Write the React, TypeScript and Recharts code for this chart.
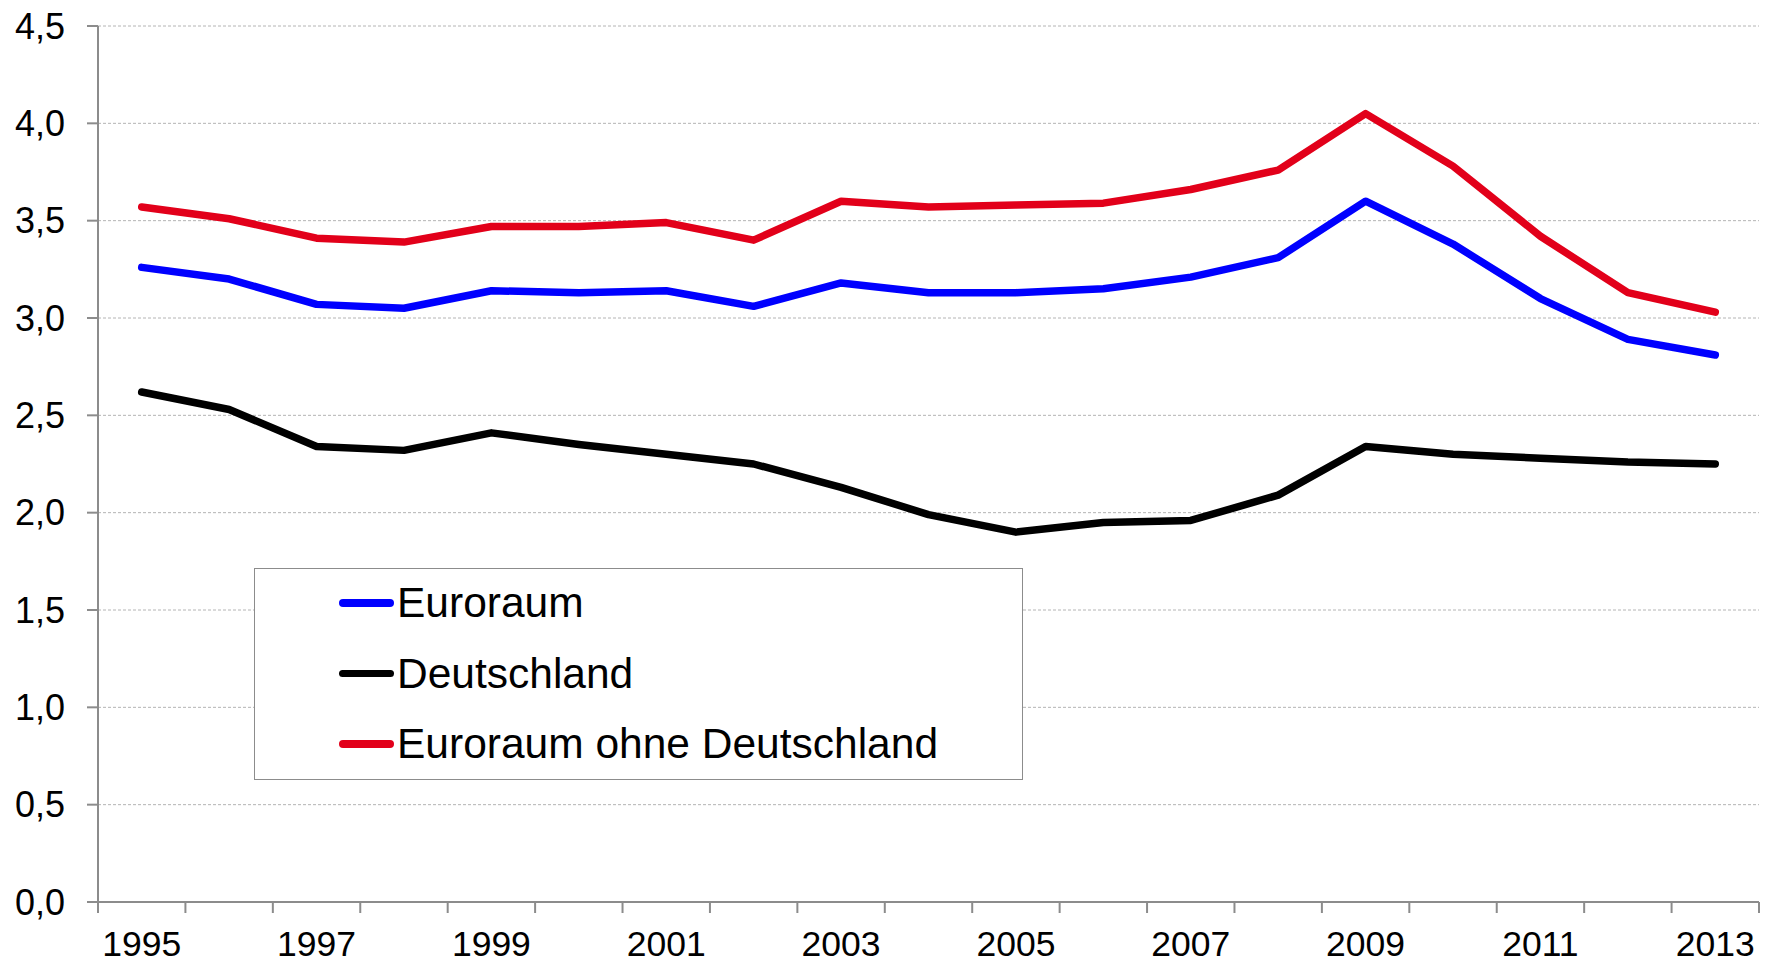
import React from 'react';
import { LineChart, Line, XAxis, YAxis, CartesianGrid } from 'recharts';

// Years on the category axis
const years = [
  '1995', '1996', '1997', '1998', '1999', '2000', '2001', '2002', '2003', '2004',
  '2005', '2006', '2007', '2008', '2009', '2010', '2011', '2012', '2013'
];

// Values
const euroraum = [
  3.26, 3.20, 3.07, 3.05, 3.14, 3.13, 3.14, 3.06, 3.18, 3.13,
  3.13, 3.15, 3.21, 3.31, 3.60, 3.38, 3.10, 2.89, 2.81
];
const deutschland = [
  2.62, 2.53, 2.34, 2.32, 2.41, 2.35, 2.30, 2.25, 2.13, 1.99,
  1.90, 1.95, 1.96, 2.09, 2.34, 2.30, 2.28, 2.26, 2.25
];
const ohneDeutschland = [
  3.57, 3.51, 3.41, 3.39, 3.47, 3.47, 3.49, 3.40, 3.60, 3.57,
  3.58, 3.59, 3.66, 3.76, 4.05, 3.78, 3.42, 3.13, 3.03
];

const yTicks = [0, 0.5, 1, 1.5, 2, 2.5, 3, 3.5, 4, 4.5];

const series = [
  { key: 'euroraum', name: 'Euroraum', color: '#0000FF' },
  { key: 'deutschland', name: 'Deutschland', color: '#000000' },
  { key: 'ohne', name: 'Euroraum ohne Deutschland', color: '#E2001A' }
];

const data = years.map((year, i) => ({
  year,
  euroraum: euroraum[i],
  deutschland: deutschland[i],
  ohne: ohneDeutschland[i]
}));

const W = 1770;
const H = 963;
const PLOT_LEFT = 98;
const PLOT_TOP = 26;
const PLOT_RIGHT = 1759;
const PLOT_BOTTOM = 902;
const BAND = (PLOT_RIGHT - PLOT_LEFT) / years.length;
const AXIS_COLOR = '#8c8c8c';
const FONT = '"Liberation Sans", Arial, sans-serif';

const XTick = (props: any) => {
  const { x, payload } = props;
  const index = payload.index;
  const left = x - BAND / 2;
  return (
    <g>
      <line x1={left} x2={left} y1={PLOT_BOTTOM} y2={PLOT_BOTTOM + 11} stroke={AXIS_COLOR} strokeWidth={2} />
      {index === years.length - 1 && (
        <line x1={x + BAND / 2} x2={x + BAND / 2} y1={PLOT_BOTTOM} y2={PLOT_BOTTOM + 11} stroke={AXIS_COLOR} strokeWidth={2} />
      )}
      {index % 2 === 0 && (
        <text x={x} y={956} textAnchor="middle" fontSize={35.5} fill="#000" fontFamily={FONT}>
          {payload.value}
        </text>
      )}
    </g>
  );
};

const App = () => {
  return (
    <div style={{ position: 'absolute', left: 0, top: 0, width: W, height: H, background: '#fff', fontFamily: FONT }}>
      <LineChart
        width={W}
        height={H}
        data={data}
        margin={{ top: PLOT_TOP, right: W - PLOT_RIGHT, left: 0, bottom: 0 }}
      >
        <CartesianGrid horizontal vertical={false} stroke="#b4b4b4" strokeDasharray="3 2" strokeWidth={1} />
        <XAxis
          dataKey="year"
          interval={0}
          height={H - PLOT_BOTTOM}
          padding={{ left: BAND / 2, right: BAND / 2 }}
          axisLine={{ stroke: AXIS_COLOR, strokeWidth: 2 }}
          tickLine={false}
          tick={<XTick />}
        />
        <YAxis
          width={PLOT_LEFT}
          domain={[0, 4.5]}
          ticks={yTicks}
          interval={0}
          tickFormatter={(v: number) => v.toFixed(1).replace('.', ',')}
          axisLine={{ stroke: AXIS_COLOR, strokeWidth: 2 }}
          tickLine={{ stroke: AXIS_COLOR, strokeWidth: 2 }}
          tickSize={11}
          tickMargin={22}
          tick={{ fontSize: 36, fill: '#000', fontFamily: FONT }}
        />
        {series.map((s) => (
          <Line
            key={s.key}
            type="linear"
            dataKey={s.key}
            name={s.name}
            stroke={s.color}
            strokeWidth={7.5}
            strokeLinejoin="round"
            strokeLinecap="round"
            dot={false}
            activeDot={false}
            isAnimationActive={false}
          />
        ))}
      </LineChart>
      <div
        style={{
          position: 'absolute',
          left: 254,
          top: 568,
          width: 769,
          height: 212,
          boxSizing: 'border-box',
          border: '1.5px solid #8c8c8c',
          background: '#fff'
        }}
      >
        {series.map((s, i) => (
          <div
            key={s.key}
            style={{
              position: 'absolute',
              left: 84,
              top: 34 + i * 70.5 - 25,
              height: 50,
              display: 'flex',
              alignItems: 'center',
              whiteSpace: 'nowrap'
            }}
          >
            <div style={{ width: 55, height: 7.5, borderRadius: 4, background: s.color }} />
            <span style={{ fontSize: 42.5, color: '#000', marginLeft: 3, lineHeight: '50px' }}>{s.name}</span>
          </div>
        ))}
      </div>
    </div>
  );
};

export default App;
